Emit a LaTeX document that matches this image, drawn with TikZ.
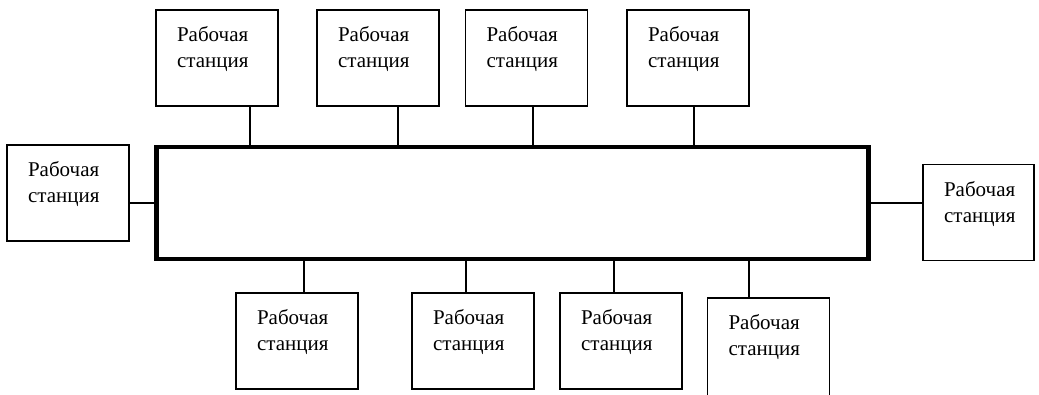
\documentclass[tikz,border=0pt]{standalone}
\usepackage{fontspec}
\setmainfont{Liberation Serif}
\begin{document}
\begin{tikzpicture}[x=1pt,y=-1pt,
  ws/.style={draw,line width=1.3pt,rectangle,inner sep=0pt,
    minimum width=122pt,minimum height=96pt},
  wslbl/.style={anchor=north west,inner sep=0pt,align=left,
    font=\fontsize{21}{26}\selectfont},
  busbox/.style={draw,line width=4.6pt,rectangle,inner sep=0pt,
    minimum width=712pt,minimum height=112pt},
  link/.style={line width=1.3pt}]
\useasboundingbox (0,0) rectangle (1039,394);

% central bus
\node[busbox] (bus) at (512.75,203) {};

% workstations above the bus
\node[ws] (t1) at (217,58) {};
\node[ws] (t2) at (378,58) {};
\node[ws] (t3) at (526.5,58) {};
\node[ws] (t4) at (688,58) {};
% workstations at the sides
\node[ws] (l) at (68,193) {};
\node[ws,minimum width=111pt] (r) at (978.5,212.5) {};
% workstations below the bus (the last one runs past the lower edge)
\node[ws] (b1) at (297,341) {};
\node[ws] (b2) at (473,341) {};
\node[ws] (b3) at (621,341) {};
\node[ws,minimum height=104pt] (b4) at (768.5,350) {};

% labels
\foreach \n in {t1,t2,t3,t4,l,r,b1,b2,b3,b4}
  \node[wslbl] at ([shift={(21.5,17)}]\n.north west) {Рабочая\\станция};

% links to the bus
\draw[link] (t1.south -| 250,0) -- (bus.north -| 250,0);
\draw[link] (t2.south -| 398,0) -- (bus.north -| 398,0);
\draw[link] (t3.south -| 533,0) -- (bus.north -| 533,0);
\draw[link] (t4.south -| 694,0) -- (bus.north -| 694,0);
\draw[link] (b1.north -| 304,0) -- (bus.south -| 304,0);
\draw[link] (b2.north -| 466,0) -- (bus.south -| 466,0);
\draw[link] (b3.north -| 614,0) -- (bus.south -| 614,0);
\draw[link] (b4.north -| 749,0) -- (bus.south -| 749,0);
\draw[link] (l.east |- 0,203) -- (bus.west |- 0,203);
\draw[link] (bus.east |- 0,203) -- (r.west |- 0,203);
\end{tikzpicture}
\end{document}
